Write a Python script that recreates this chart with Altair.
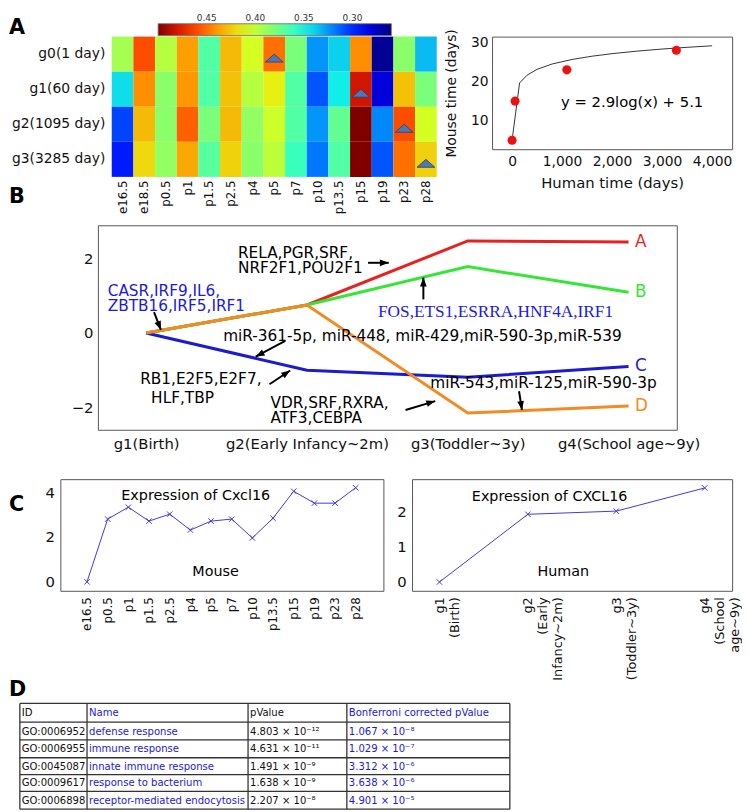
import json
import math
import altair as alt
import pandas as pd

FONT = "DejaVu Sans"
SERIF = "Liberation Serif"
TABLE_FONT = "'DejaVu Sans Condensed', 'DejaVu Sans', sans-serif"

# ---------------- Panel A : heatmap ----------------
stages = ["e16.5", "e18.5", "p0.5", "p1", "p1.5", "p2.5", "p4", "p5", "p7",
          "p10", "p13.5", "p15", "p19", "p23", "p28"]
groups = ["g0(1 day)", "g1(60 day)", "g2(1095 day)", "g3(3285 day)"]
heat_g0 = [0.392, 0.459, 0.397, 0.438, 0.368, 0.430, 0.406, 0.450, 0.380, 0.325, 0.339, 0.442, 0.265, 0.385, 0.334]
heat_g1 = [0.342, 0.442, 0.385, 0.440, 0.368, 0.428, 0.397, 0.414, 0.368, 0.310, 0.346, 0.481, 0.282, 0.428, 0.380]
heat_g2 = [0.306, 0.430, 0.385, 0.454, 0.380, 0.430, 0.387, 0.404, 0.368, 0.325, 0.373, 0.500, 0.322, 0.459, 0.406]
heat_g3 = [0.296, 0.421, 0.387, 0.435, 0.370, 0.423, 0.385, 0.399, 0.361, 0.318, 0.368, 0.500, 0.310, 0.450, 0.423]
marker_stages = ["p5", "p15", "p23", "p28"]
colorbar_ticks = [0.45, 0.40, 0.35, 0.30]
jet_domain = [0.50, 0.47, 0.44, 0.41, 0.38, 0.35, 0.32, 0.29, 0.26]
jet_colors = ["#800000", "#ff2200", "#ff9700", "#e2ff14", "#7aff7a", "#14ffe3", "#0080ff", "#0000ff", "#000080"]

# ---------------- Panel A : scatter ----------------
human_days = [0, 60, 1095, 3285]
mouse_days = [5, 15, 23, 28]
fit_x = [1, 150, 300, 500, 800, 1200, 1600, 2000, 2500, 3000, 3500, 4000]
fit_y = [5.1, 19.63, 21.64, 23.13, 24.49, 25.66, 26.49, 27.14, 27.79, 28.32, 28.76, 29.15]
fit_label = "y = 2.9log(x) + 5.1"

# ---------------- Panel B ----------------
b_stages = ["g1(Birth)", "g2(Early Infancy~2m)", "g3(Toddler~3y)", "g4(School age~9y)"]
series_names = ["A", "B", "C", "D"]
series_colors = ["#ea1f1f", "#36e636", "#1b1bcf", "#f28b22"]
series_vals = [
    [0, 0.75, 2.47, 2.44],
    [0, 0.75, 1.78, 1.09],
    [0, -1.00, -1.19, -0.90],
    [0, 0.75, -2.15, -1.96],
]
note_text = ["RELA,PGR,SRF,", "NRF2F1,POU2F1",
             "miR-361-5p, miR-448, miR-429,miR-590-3p,miR-539",
             "RB1,E2F5,E2F7,", "HLF,TBP", "VDR,SRF,RXRA,", "ATF3,CEBPA",
             "miR-543,miR-125,miR-590-3p"]
note_x = [1.571, 1.571, 1.479, 0.963, 1.031, 1.773, 1.773, 2.767]
note_y = [2.140, 1.730, -0.080, -1.247, -1.751, -1.877, -2.288, -1.353]
blue_text = ["CASR,IRF9,IL6,", "ZBTB16,IRF5,IRF1"]
blue_x = [0.761, 0.761]
blue_y = [1.134, 0.724]
serif_text = ["FOS,ETS1,ESRRA,HNF4A,IRF1"]
serif_x = [2.442]
serif_y = [0.557]
arrow_tx = [2.380, 1.049, 2.724, 1.865, 1.767, 2.613, 3.319]
arrow_ty = [1.883, 0.557, 0.902, -0.212, -1.379, -2.069, -1.565]
arrow_hx = [2.509, 1.092, 2.724, 1.681, 1.896, 2.798, 3.337]
arrow_hy = [1.883, 0.080, 1.485, -0.637, -1.008, -1.830, -2.069]

# ---------------- Panel C ----------------
mouse_stages = ["e16.5", "p0.5", "p1", "p1.5", "p2.5", "p4", "p5", "p7", "p10",
                "p13.5", "p15", "p19", "p23", "p28"]
mouse_cxcl16 = [0, 2.80, 3.33, 2.71, 3.02, 2.31, 2.71, 2.80, 1.96, 2.84, 4.04, 3.51, 3.51, 4.20]
human_stage_labels = [["g1", "(Birth)"], ["g2", "(Early", "Infancy~2m)"],
                      ["g3", "(Toddler~3y)"], ["g4", "(School", "age~9y)"]]
human_cxcl16 = [0, 1.93, 2.02, 2.68]

# ---------------- Panel D ----------------
table_header = ["ID", "Name", "pValue", "Bonferroni corrected pValue"]
go_ids = ["GO:0006952", "GO:0006955", "GO:0045087", "GO:0009617", "GO:0006898"]
go_names = ["defense response", "immune response", "innate immune response",
            "response to bacterium", "receptor-mediated endocytosis"]
p_values = ["4.803 × 10⁻¹²", "4.631 × 10⁻¹¹", "1.491 × 10⁻⁹", "1.638 × 10⁻⁹", "2.207 × 10⁻⁸"]
bonf_values = ["1.067 × 10⁻⁸", "1.029 × 10⁻⁷", "3.312 × 10⁻⁶", "3.638 × 10⁻⁶", "4.901 × 10⁻⁵"]

# layout constants (pixels)
CB_X, CB_Y, CB_LEN, CB_THICK = 151, -13, 236, 12
TBL_COL_EDGES = [0, 68, 231, 331, 496]
TBL_ROW_EDGES = [0, 19, 37, 55, 72, 89, 107]
BLUE = "#1a1adb"
LINE_BLUE = "#3a3ae0"
NOTE_SIZE = 15.5
TRANSPARENT_VIEW = alt.ViewBackground(stroke="transparent")


def spacer(w, h, top, letters=(), extra=()):
    """Empty cell of width w; an invisible guide fixes its vertical extent [-top, h]."""
    guide = alt.Chart(pd.DataFrame({"a": [0]})).mark_rule(opacity=0, strokeWidth=0).encode(
        x=alt.value(0), y=alt.value(-top), y2=alt.value(h))
    layers = [guide]
    if letters:
        ldf = pd.DataFrame({"t": [l for l, _ in letters], "y": [y for _, y in letters]})
        layers.append(alt.Chart(ldf).mark_text(
            align="left", baseline="top", font=FONT, fontSize=21, fontWeight="bold", color="black"
        ).encode(text="t:N", x=alt.value(0), y=alt.Y("y:Q", scale=None)))
    layers.extend(extra)
    return alt.layer(*layers).properties(width=w, height=max(h, 1), view=TRANSPARENT_VIEW)


# colorbar tick labels (placed from the colour domain)
cb_lo, cb_hi = min(jet_domain), max(jet_domain)
cb_df = pd.DataFrame({"px": [CB_X + CB_LEN * (cb_hi - v) / (cb_hi - cb_lo) for v in colorbar_ticks],
                      "t": ["%.2f" % v for v in colorbar_ticks]})
cb_labels = alt.Chart(cb_df).mark_text(
    align="center", baseline="bottom", fontSize=9, font=FONT, color="#333333"
).encode(x=alt.X("px:Q", scale=None), y=alt.value(CB_Y - 1), text="t:N")

# ---- heatmap ----
heat_df = pd.DataFrame([{"stage": s, "group": g, "value": v}
                        for g, row in zip(groups, [heat_g0, heat_g1, heat_g2, heat_g3])
                        for s, v in zip(stages, row)])
hx = alt.X("stage:N", sort=stages, scale=alt.Scale(paddingInner=0, paddingOuter=0),
           axis=alt.Axis(title=None, labelAngle=-90, labelFontSize=12, ticks=False, domain=False,
                         labelPadding=3, labelOverlap=False))
hy = alt.Y("group:N", sort=groups, scale=alt.Scale(paddingInner=0, paddingOuter=0),
           axis=alt.Axis(title=None, labelFontSize=14, ticks=False, domain=False, labelPadding=7))
heat_rect = alt.Chart(heat_df).mark_rect().encode(
    x=hx, y=hy,
    color=alt.Color("value:Q",
                    scale=alt.Scale(domain=jet_domain, range=jet_colors, interpolate="rgb"),
                    legend=alt.Legend(orient="none", legendX=CB_X, legendY=CB_Y, direction="horizontal",
                                      gradientLength=CB_LEN, gradientThickness=CB_THICK, title=None,
                                      labelOpacity=0, labelFontSize=1, gradientStrokeColor="#666",
                                      gradientStrokeWidth=0.8)))
tri_df = pd.DataFrame({"stage": marker_stages, "group": groups})
heat_tri = alt.Chart(tri_df).mark_point(
    shape="M -1 0.45 L 1 0.45 L 0 -0.45 Z", filled=True, size=324, fill="#4f77b8",
    stroke="#2b3b66", strokeWidth=0.8, opacity=1, yOffset=4
).encode(x=hx, y=hy)
heat = alt.layer(heat_rect, heat_tri).properties(width=329, height=142, view=TRANSPARENT_VIEW)

# ---- scatter ----
sx = alt.Scale(domain=[-400, 4400], nice=False, zero=False)
sy = alt.Scale(domain=[2.7, 31.5], nice=False, zero=False)
sxa = alt.Axis(title="Human time (days)", values=[0, 1000, 2000, 3000, 4000], format=",.0f",
               labelFontSize=14, titleFontSize=15, ticks=False, domain=False, labelPadding=5,
               titlePadding=8, labelFlush=False, labelOverlap=False)
sya = alt.Axis(title="Mouse time (days)", values=[10, 20, 30], format=".0f", labelFontSize=14,
               titleFontSize=14, ticks=False, domain=False, labelPadding=4, titlePadding=12)
fit_df = pd.DataFrame({"x": fit_x, "y": fit_y})
pts_df = pd.DataFrame({"x": human_days, "y": mouse_days})
fit_line = alt.Chart(fit_df).mark_line(color="#333333", strokeWidth=1).encode(
    x=alt.X("x:Q", scale=sx, axis=sxa), y=alt.Y("y:Q", scale=sy, axis=sya))
fit_pts = alt.Chart(pts_df).mark_circle(color="#ee1111", size=85, opacity=1).encode(
    x=alt.X("x:Q", scale=sx, axis=sxa), y=alt.Y("y:Q", scale=sy, axis=sya))
fit_txt = alt.Chart(pd.DataFrame({"x": [2400], "y": [14.8], "t": [fit_label]})).mark_text(
    fontSize=15, font=FONT, color="black").encode(
    x=alt.X("x:Q", scale=sx, axis=sxa), y=alt.Y("y:Q", scale=sy, axis=sya), text="t:N")
scatter = alt.layer(fit_line, fit_pts, fit_txt).properties(width=243, height=114)

# ---- panel B ----
B_XDOM = [0.7, 4.3]
B_YDOM = [-2.6, 2.89]
B_W, B_H = 586, 207
bx = alt.Scale(domain=B_XDOM, nice=False, zero=False)
by = alt.Scale(domain=B_YDOM, nice=False, zero=False)
bxa = alt.Axis(title=None, values=[1, 2, 3, 4], labelExpr=json.dumps(b_stages) + "[datum.value - 1]",
               labelFontSize=15, ticks=False, domain=False, labelPadding=7, labelOverlap=False,
               labelFlush=False, labelBound=False)
bya = alt.Axis(title=None, values=[-2, 0, 2], format=".0f", labelFontSize=15, ticks=False,
               domain=False, labelPadding=5)


def BX(f):
    return alt.X(f, scale=bx, axis=bxa)


def BY(f):
    return alt.Y(f, scale=by, axis=bya)


b_layers = []
for name, col, vals in zip(series_names, series_colors, series_vals):
    sdf = pd.DataFrame({"x": [1, 2, 3, 4], "y": vals})
    b_layers.append(alt.Chart(sdf).mark_line(strokeWidth=3, color=col).encode(x=BX("x:Q"), y=BY("y:Q")))
end_df = pd.DataFrame({"x": [4.04] * 4, "y": [v[-1] for v in series_vals],
                       "t": series_names, "color": series_colors})
b_end = alt.Chart(end_df).mark_text(align="left", baseline="middle", fontSize=17, font=FONT).encode(
    x=BX("x:Q"), y=BY("y:Q"), text="t:N", color=alt.Color("color:N", scale=None))
notes = alt.Chart(pd.DataFrame({"x": note_x, "y": note_y, "t": note_text})).mark_text(
    align="left", baseline="middle", fontSize=NOTE_SIZE, font=FONT, color="black").encode(
    x=BX("x:Q"), y=BY("y:Q"), text="t:N")
bnotes = alt.Chart(pd.DataFrame({"x": blue_x, "y": blue_y, "t": blue_text})).mark_text(
    align="left", baseline="middle", fontSize=NOTE_SIZE, font=FONT, color="#1a1ae6").encode(
    x=BX("x:Q"), y=BY("y:Q"), text="t:N")
snotes = alt.Chart(pd.DataFrame({"x": serif_x, "y": serif_y, "t": serif_text})).mark_text(
    align="left", baseline="middle", fontSize=17.5, font=SERIF, color="#1a1ae6").encode(
    x=BX("x:Q"), y=BY("y:Q"), text="t:N")
kx = B_W / (B_XDOM[1] - B_XDOM[0])
ky = B_H / (B_YDOM[1] - B_YDOM[0])
arrow_angle = [math.degrees(math.atan2((hx_ - tx) * kx, (hy_ - ty) * ky)) % 360
               for tx, ty, hx_, hy_ in zip(arrow_tx, arrow_ty, arrow_hx, arrow_hy)]
arr_df = pd.DataFrame({"tx": arrow_tx, "ty": arrow_ty, "hx": arrow_hx, "hy": arrow_hy, "a": arrow_angle})
arr_lines = alt.Chart(arr_df).mark_rule(color="black", strokeWidth=2).encode(
    x=BX("tx:Q"), y=BY("ty:Q"), x2="hx:Q", y2="hy:Q")
arr_heads = alt.Chart(arr_df).mark_point(
    shape="M 0 0 L 0.45 1.2 L -0.45 1.2 Z", filled=True, size=225, color="black", opacity=1
).encode(x=BX("hx:Q"), y=BY("hy:Q"), angle=alt.Angle("a:Q", scale=None))
bchart = alt.layer(*b_layers, b_end, notes, bnotes, snotes, arr_lines, arr_heads).properties(
    width=B_W, height=B_H)

# ---- panel C mouse ----
mx = alt.Scale(domain=[-1.29, 14.34], nice=False, zero=False)
my = alt.Scale(domain=[-0.4, 4.58], nice=False, zero=False)
mxa = alt.Axis(title=None, values=list(range(len(mouse_stages))),
               labelExpr=json.dumps(mouse_stages) + "[round(datum.value)]",
               labelAngle=-90, labelFontSize=12, ticks=False, domain=False, labelPadding=6,
               labelOverlap=False, labelFlush=False)
mya = alt.Axis(title=None, values=[0, 2, 4], format=".0f", labelFontSize=15, ticks=False,
               domain=False, labelPadding=6)
XMARK = "M -1 -1 L 1 1 M -1 1 L 1 -1"
m_df = pd.DataFrame({"x": list(range(len(mouse_stages))), "y": mouse_cxcl16})
m_line = alt.Chart(m_df).mark_line(color=LINE_BLUE, strokeWidth=1).encode(
    x=alt.X("x:Q", scale=mx, axis=mxa), y=alt.Y("y:Q", scale=my, axis=mya))
m_pts = alt.Chart(m_df).mark_point(shape=XMARK, filled=False, size=30, color=LINE_BLUE,
                                   strokeWidth=1, opacity=1).encode(
    x=alt.X("x:Q", scale=mx, axis=mxa), y=alt.Y("y:Q", scale=my, axis=mya))
m_txt = alt.Chart(pd.DataFrame({"x": [5.26, 6.22], "y": [3.82, 0.44],
                                "t": ["Expression of Cxcl16", "Mouse"]})).mark_text(
    fontSize=14.5, font=FONT, color="black", baseline="middle").encode(
    x=alt.X("x:Q", scale=mx, axis=mxa), y=alt.Y("y:Q", scale=my, axis=mya), text="t:N")
mouse = alt.layer(m_line, m_pts, m_txt).properties(width=327, height=113)

# ---- panel C human ----
ux = alt.Scale(domain=[0.69, 4.31], nice=False, zero=False)
uy = alt.Scale(domain=[-0.25, 2.93], nice=False, zero=False)
uxa = alt.Axis(title=None, values=[1, 2, 3, 4],
               labelExpr=json.dumps(human_stage_labels) + "[datum.value - 1]",
               labelAngle=-90, labelFontSize=13, ticks=False, domain=False, labelPadding=6,
               labelOverlap=False, labelFlush=False)
uya = alt.Axis(title=None, values=[0, 1, 2], format=".0f", labelFontSize=15, ticks=False,
               domain=False, labelPadding=6)
u_df = pd.DataFrame({"x": [1, 2, 3, 4], "y": human_cxcl16})
u_line = alt.Chart(u_df).mark_line(color=LINE_BLUE, strokeWidth=1).encode(
    x=alt.X("x:Q", scale=ux, axis=uxa), y=alt.Y("y:Q", scale=uy, axis=uya))
u_pts = alt.Chart(u_df).mark_point(shape=XMARK, filled=False, size=30, color=LINE_BLUE,
                                   strokeWidth=1, opacity=1).encode(
    x=alt.X("x:Q", scale=ux, axis=uxa), y=alt.Y("y:Q", scale=uy, axis=uya))
u_txt = alt.Chart(pd.DataFrame({"x": [2.246, 2.40], "y": [2.42, 0.28],
                                "t": ["Expression of CXCL16", "Human"]})).mark_text(
    fontSize=14.5, font=FONT, color="black", baseline="middle").encode(
    x=alt.X("x:Q", scale=ux, axis=uxa), y=alt.Y("y:Q", scale=uy, axis=uya), text="t:N")
human = alt.layer(u_line, u_pts, u_txt).properties(width=324, height=113)

# ---- panel D table ----
TW, TH = TBL_COL_EDGES[-1], TBL_ROW_EDGES[-1]
tx_s = alt.Scale(domain=[0, TW], nice=False, zero=False)
ty_s = alt.Scale(domain=[0, TH], nice=False, zero=False, reverse=True)
cols_text = [[table_header[0]] + go_ids, [table_header[1]] + go_names,
             [table_header[2]] + p_values, [table_header[3]] + bonf_values]
col_colors = ["#111111", BLUE, "#111111", BLUE]
cells = []
for c, col in enumerate(cols_text):
    for r, t in enumerate(col):
        cells.append({"x": TBL_COL_EDGES[c] + 2,
                      "y": (TBL_ROW_EDGES[r] + TBL_ROW_EDGES[r + 1]) / 2 + 0.5,
                      "t": t, "color": col_colors[c]})
t_text = alt.Chart(pd.DataFrame(cells)).mark_text(
    align="left", baseline="middle", font=TABLE_FONT, fontSize=11.3).encode(
    x=alt.X("x:Q", scale=tx_s, axis=None), y=alt.Y("y:Q", scale=ty_s, axis=None),
    text="t:N", color=alt.Color("color:N", scale=None))
hl = pd.DataFrame({"x": [0] * len(TBL_ROW_EDGES), "x2": [TW] * len(TBL_ROW_EDGES), "y": TBL_ROW_EDGES})
vl = pd.DataFrame({"x": TBL_COL_EDGES, "y": [0] * len(TBL_COL_EDGES), "y2": [TH] * len(TBL_COL_EDGES)})
t_h = alt.Chart(hl).mark_rule(color="#333333", strokeWidth=1.3).encode(
    x=alt.X("x:Q", scale=tx_s, axis=None), x2="x2:Q", y=alt.Y("y:Q", scale=ty_s, axis=None))
t_v = alt.Chart(vl).mark_rule(color="#333333", strokeWidth=1.3).encode(
    x=alt.X("x:Q", scale=tx_s, axis=None), y=alt.Y("y:Q", scale=ty_s, axis=None), y2="y2:Q")
table = alt.layer(t_h, t_v, t_text).properties(width=TW, height=TH, view=TRANSPARENT_VIEW)

# ---- layout: each row is a flush hconcat; rows stacked by their (guided) full bounds ----
rowA = alt.hconcat(spacer(104, 187, 8, letters=[("A", -20), ("B", 151)], extra=[cb_labels]),
                   heat, spacer(56, 1, 0), scatter, spacing=0, bounds="flush")
rowB = alt.hconcat(spacer(90, 253, 2), bchart, spacing=0, bounds="flush")
rowC = alt.hconcat(spacer(52, 224, 2, letters=[("C", 15), ("D", 202)]),
                   mouse, spacer(29, 1, 0), human, spacing=0, bounds="flush")
rowD = alt.hconcat(spacer(11, 107, 1), table, spacing=0, bounds="flush")

chart = alt.vconcat(rowA, rowB, rowC, rowD, spacing=0, padding=0).configure(font=FONT).configure_view(
    stroke="#555555", strokeWidth=1).configure_axis(
    grid=False, labelColor="#111111", titleColor="#111111", labelFont=FONT, titleFont=FONT,
    titleFontWeight="normal").configure_legend(padding=0)

chart.save("out.html", embed_options={"renderer": "svg", "actions": False})
